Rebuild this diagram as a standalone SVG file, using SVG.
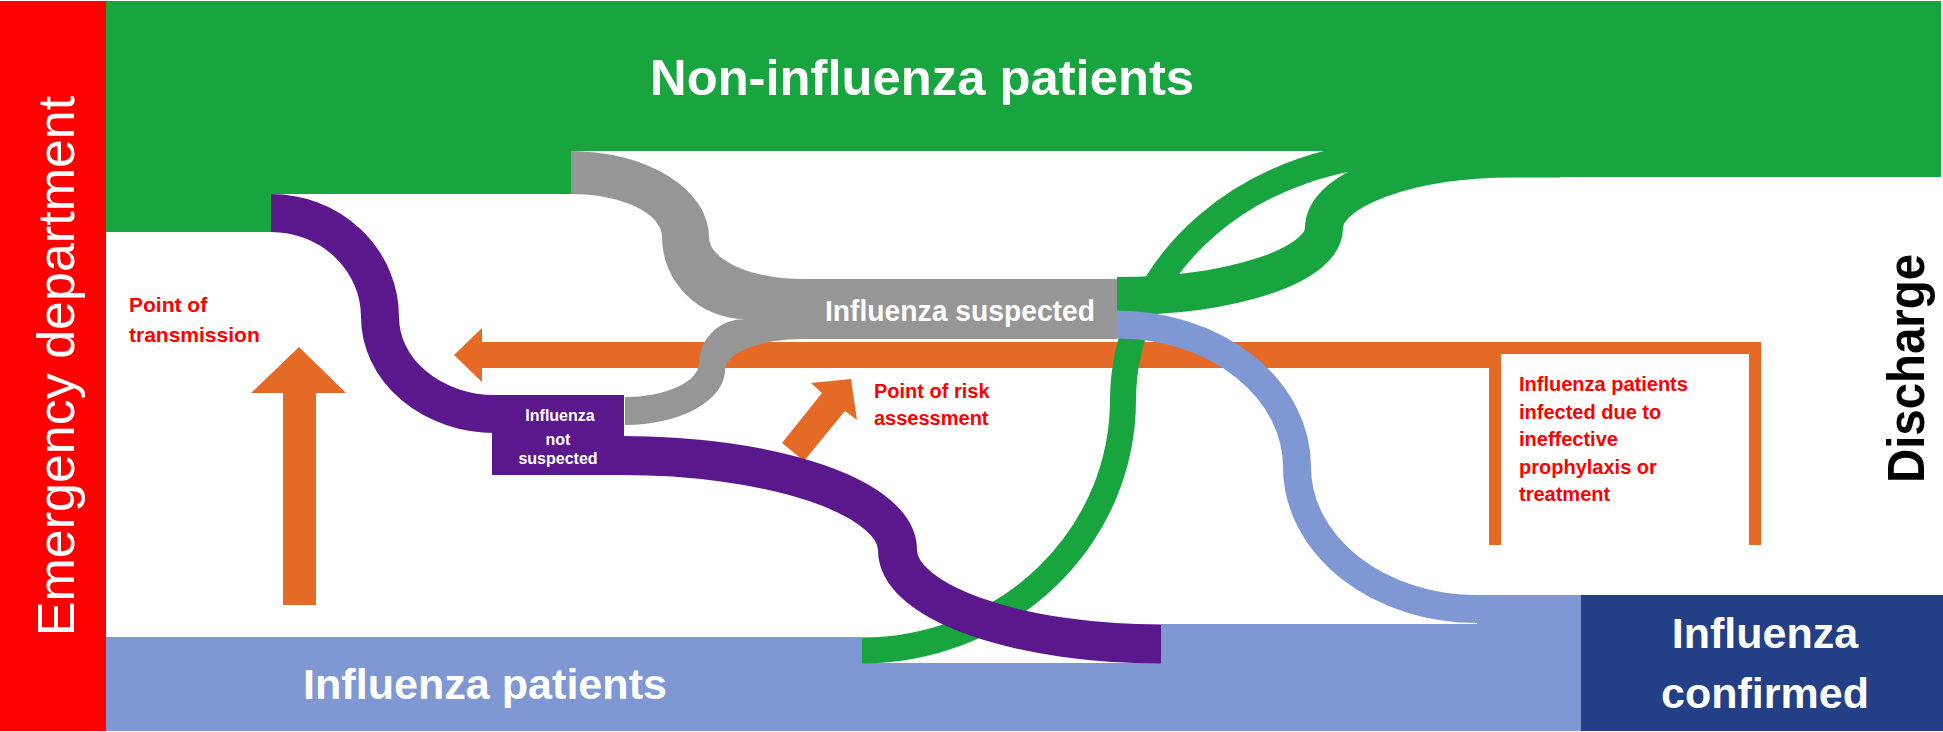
<svg xmlns="http://www.w3.org/2000/svg" width="1943" height="732" viewBox="0 0 1943 732">
<style>
.sans{font-family:"Liberation Sans",Arial,sans-serif}
.b{font-weight:bold}
.wt{fill:#fff}
.rt{fill:#ff0000}
.green{fill:#18a43f}
.orange{fill:#e56a26}
.rib{fill:none}
</style>
<rect x="0" y="0" width="1943" height="732" fill="#fff"/>
<g id="emergency-department">
<rect x="0" y="1" width="106" height="730" fill="#ff0000"/>
<text class="sans wt" font-size="52" text-anchor="middle" transform="translate(74,366) rotate(-90)">Emergency department</text>
</g>
<g id="non-influenza-patients">
<path class="green" d="M106,1 H1941 V177 H1513 V151 H571 V194 H271 V232 H106 Z"/>
<text class="sans b wt" x="650" y="95" font-size="50" textLength="544" lengthAdjust="spacingAndGlyphs">Non-influenza patients</text>
</g>
<g id="influenza-patients">
<path fill="#7f97d3" d="M106,637 H862 V663 H1161 V624 H1477 V595 H1581 V731 H106 Z"/>
<text class="sans b wt" x="303" y="699" font-size="43" textLength="364" lengthAdjust="spacingAndGlyphs">Influenza patients</text>
</g>
<g id="influenza-confirmed">
<rect x="1581" y="595" width="362" height="136" fill="#233f85"/>
<text class="sans b wt" font-size="43" text-anchor="middle"><tspan x="1765" y="648">Influenza</tspan><tspan x="1765" y="708">confirmed</tspan></text>
</g>
<g id="discharge">
<text class="sans b" fill="#000" font-size="52" textLength="229" lengthAdjust="spacingAndGlyphs" transform="translate(1924,483) rotate(-90)">Discharge</text>
</g>
<g id="connectors">
<path class="orange" d="M454,355 L482,328 L482,342 H1761 V545 H1749 V354 H1501 V545 H1489 V368 H482 V382 Z"/>
<path class="orange" d="M299,347 L346,393 H316 V605 H283 V393 H251 Z"/>
<path class="orange" d="M782,443 L822,393 L811,383 L851,379 L857,420 L845,411 L804,461 Z"/>
<path class="rib" stroke="#18a43f" stroke-width="26" d="M862,650.5 A261,250.5 0 0 0 1123,400 A287,247 0 0 1 1410,153 H1450"/>
<path class="rib" stroke="#18a43f" stroke-width="38" d="M1117,296 A207,68 0 0 0 1324,228 A189,69.5 0 0 1 1513,158.5 H1560"/>
<path class="rib" stroke="#7f97d3" stroke-width="28" d="M1117,324.5 A180,142.5 0 0 1 1297,467 A180,142 0 0 0 1477,609 H1490"/>
<path fill="#969696" d="M571,151 A138,86 0 0 1 709,237 A94,42 0 0 0 803,279 L806,279 L806,339 L803,339 A78,31 0 0 0 725,370 A100,55 0 0 1 625,425 L625,397 A74,34 0 0 0 699,363 A46,44 0 0 1 745,319 A83,82 0 0 1 662,237 A91,43 0 0 0 571,194 Z"/>
<path class="rib" stroke="#5a188c" stroke-width="38" d="M271,213 A109,104 0 0 1 380,317 A115,97 0 0 0 495,414"/>
<path class="rib" stroke="#5a188c" stroke-width="39" d="M622,455.5 A275.5,94.5 0 0 1 897.5,550 A263.5,94 0 0 0 1161,644"/>
</g>
<g id="influenza-suspected">
<rect x="803" y="279" width="314" height="60" fill="#969696"/>
<text class="sans b wt" x="825" y="321" font-size="30" textLength="270" lengthAdjust="spacingAndGlyphs">Influenza suspected</text>
</g>
<g id="influenza-not-suspected">
<rect x="492" y="395" width="132" height="80" fill="#5a188c"/>
<text class="sans b wt" font-size="16" text-anchor="middle"><tspan x="560" y="421">Influenza</tspan><tspan x="558" y="445">not</tspan><tspan x="558" y="464">suspected</tspan></text>
</g>
<g id="annotations">
<text class="sans b rt" font-size="21"><tspan x="129" y="312">Point of</tspan><tspan x="129" y="342">transmission</tspan></text>
<text class="sans b rt" font-size="20"><tspan x="874" y="398">Point of risk</tspan><tspan x="874" y="425">assessment</tspan></text>
<text class="sans b rt" font-size="20"><tspan x="1519" y="391">Influenza patients</tspan><tspan x="1519" y="418.5">infected due to</tspan><tspan x="1519" y="446">ineffective</tspan><tspan x="1519" y="473.5">prophylaxis or</tspan><tspan x="1519" y="501">treatment</tspan></text>
</g>
</svg>
